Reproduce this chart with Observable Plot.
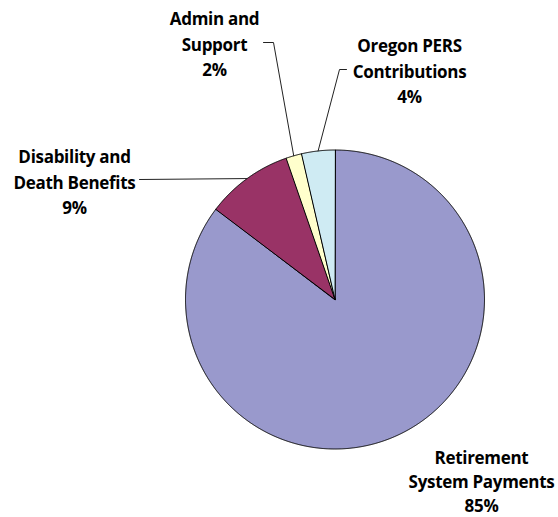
<!DOCTYPE html>
<html>
<head>
<meta charset="utf-8">
<script src="https://cdn.jsdelivr.net/npm/d3@7"></script>
<script src="https://cdn.jsdelivr.net/npm/@observablehq/plot@0.6"></script>
<style>
  html, body { margin: 0; padding: 0; background: #fff; }
  svg { display: block; }
</style>
</head>
<body>
<div id="chart"></div>
<script>
// ---- data ----
const categories = ["Retirement System Payments", "Disability and Death Benefits", "Admin and Support", "Oregon PERS Contributions"];
const shares = [85.3, 9.4, 1.7, 3.6];
const labelLines = [["Retirement", "System Payments"], ["Disability and", "Death Benefits"], ["Admin and", "Support"], ["Oregon PERS", "Contributions"]];
const sliceColors = ["#9999cc", "#993366", "#ffffcc", "#cfebf3"];

// ---- layout (pixel space) ----
const W = 558, H = 517;
const cx = 334.5, cy = 299, R = 149.5;
const labelPos = [[481, 480, 1.42], [74, 180, 1.5], [214, 42, 1.5], [409, 69, 1.5]];
// leader line bends (null => straight horizontal from text end)
const leaderStart = [null, [139, 179], [263, 42], [346, 69]];
const leaderBend = [null, null, [273, 42], [339, 69]];

const pie = d3.pie().sort(null).value(d => d.share)(
  categories.map((c, i) => ({name: c, share: shares[i], color: sliceColors[i], i}))
);
const pt = (a, r = R) => [cx + r * Math.sin(a), cy - r * Math.cos(a)];

const slices = pie.map(p => {
  const pts = [[cx, cy]];
  const n = Math.max(2, Math.ceil((p.endAngle - p.startAngle) / (Math.PI / 720)));
  for (let k = 0; k <= n; k++) {
    pts.push(pt(p.startAngle + (p.endAngle - p.startAngle) * k / n));
  }
  return {p, pts};
});

const leaders = [];
pie.forEach((p, i) => {
  if (!leaderStart[i]) return;
  const mid = pt((p.startAngle + p.endAngle) / 2);
  const pts = [leaderStart[i]];
  if (leaderBend[i]) pts.push(leaderBend[i]);
  pts.push(mid);
  pts.forEach(q => leaders.push({x: q[0], y: q[1], i}));
});

const labels = pie.map((p, i) => ({
  x: labelPos[i][0], y: labelPos[i][1], lh: labelPos[i][2],
  text: labelLines[i].join("\n") + "\n" + Math.round(p.data.share) + "%"
}));

const marks = [];
slices.forEach(s => {
  marks.push(Plot.line(s.pts, {x: d => d[0], y: d => d[1], curve: "linear-closed",
    fill: s.p.data.color, stroke: "#000", strokeWidth: 1, strokeLinejoin: "round"}));
});
marks.push(Plot.line(leaders, {x: "x", y: "y", z: "i", stroke: "#222", strokeWidth: 1}));
labels.forEach(l => {
  marks.push(Plot.text([l], {x: "x", y: "y", text: "text", lineHeight: l.lh,
    fontSize: 17, fontWeight: 700, fill: "#000", textAnchor: "middle"}));
});

const chart = Plot.plot({
  width: W, height: H, margin: 0,
  style: {fontFamily: "'Open Sans', sans-serif", background: "#fff", letterSpacing: "-0.3px"},
  x: {domain: [0, W], range: [0, W], axis: null},
  y: {domain: [0, H], range: [0, H], axis: null},
  marks
});
document.getElementById("chart").appendChild(chart);
</script>
</body>
</html>
